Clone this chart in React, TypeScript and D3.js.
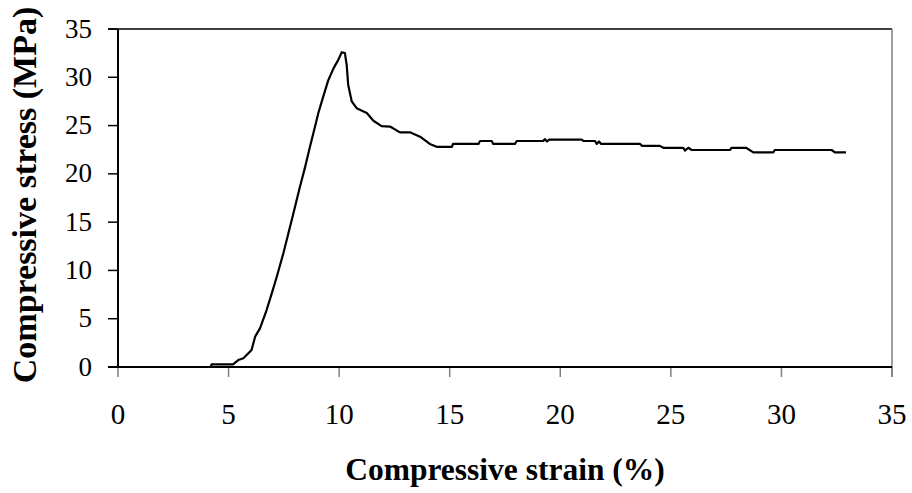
import React from "react";
import * as d3 from "d3";

const strain = [0, 4.2, 4.23, 5.2, 5.44, 5.67, 6.04, 6.2, 6.42, 6.72, 6.95, 7.18, 7.48, 7.7, 7.93, 8.23, 8.46, 8.68, 8.91, 9.06, 9.28, 9.51, 9.74, 9.96, 10.12, 10.26, 10.34, 10.41, 10.57, 10.79, 11.25, 11.55, 11.92, 12.3, 12.75, 13.2, 13.66, 14.1, 14.41, 15.1, 15.15, 16.3, 16.37, 16.9, 16.97, 17.95, 18.03, 19.23, 19.3, 19.4, 19.5, 20.97, 21.05, 21.57, 21.65, 21.75, 21.85, 23.6, 23.7, 24.5, 24.66, 25.56, 25.64, 25.79, 25.94, 27.67, 27.75, 28.4, 28.73, 29.63, 29.7, 32.27, 32.42, 32.92];
const stress = [0, 0, 0.28, 0.28, 0.72, 0.9, 1.76, 3.14, 4.0, 5.9, 7.6, 9.35, 11.8, 13.8, 15.9, 18.7, 20.7, 22.8, 24.9, 26.3, 28.0, 29.7, 30.9, 31.8, 32.6, 32.5, 31.3, 29.2, 27.5, 26.8, 26.3, 25.5, 24.95, 24.9, 24.3, 24.3, 23.85, 23.1, 22.8, 22.8, 23.1, 23.1, 23.4, 23.4, 23.1, 23.1, 23.4, 23.4, 23.6, 23.35, 23.55, 23.55, 23.4, 23.4, 23.1, 23.35, 23.1, 23.1, 22.9, 22.9, 22.7, 22.7, 22.4, 22.7, 22.47, 22.47, 22.7, 22.7, 22.23, 22.23, 22.47, 22.47, 22.23, 22.23];

const xTicks = [0, 5, 10, 15, 20, 25, 30, 35];
const yTicks = [0, 5, 10, 15, 20, 25, 30, 35];
const xTitle = "Compressive strain (%)";
const yTitle = "Compressive stress (MPa)";

const FONT = "'Liberation Serif', 'Times New Roman', serif";

export default function App() {
  const x = d3.scaleLinear().domain([0, 35]).range([118, 892]);
  const y = d3.scaleLinear().domain([0, 35]).range([367, 29]);
  const pts = strain.map((s, i) => [s, stress[i]] as [number, number]);
  const line = d3.line<[number, number]>().x((d) => x(d[0])).y((d) => y(d[1]));

  return (
    <svg width={912} height={493} style={{ position: "absolute", left: 0, top: 0, background: "#fff" }}>
      <rect x={0} y={0} width={912} height={493} fill="#fff" />
      <line x1={108} x2={892} y1={y(35)} y2={y(35)} stroke="#000" strokeWidth={1.5} />
      <line x1={892} x2={892} y1={y(35)} y2={377} stroke="#808080" strokeWidth={1.5} />
      {yTicks.map((t) => (
        <g key={"y" + t}>
          <line x1={108} x2={118} y1={y(t)} y2={y(t)} stroke="#000" strokeWidth={1.5} />
          <text x={92} y={y(t) + 8.5} textAnchor="end" fontFamily={FONT} fontSize={27} fill="#000">{t}</text>
        </g>
      ))}
      {xTicks.map((t) => (
        <g key={"x" + t}>
          <line x1={x(t)} x2={x(t)} y1={367} y2={377} stroke="#808080" strokeWidth={1.5} />
          <text x={x(t)} y={424} textAnchor="middle" fontFamily={FONT} fontSize={29} fill="#000">{t}</text>
        </g>
      ))}
      <line x1={108} x2={892} y1={367} y2={367} stroke="#000" strokeWidth={2} />
      <line x1={118} x2={118} y1={29} y2={367} stroke="#000" strokeWidth={2} />
      <path d={line(pts) || ""} fill="none" stroke="#000" strokeWidth={2.2} strokeLinejoin="round" />
      <text x={505} y={480} textAnchor="middle" fontFamily={FONT} fontWeight="bold" fontSize={31.5} fill="#000">{xTitle}</text>
      <text transform="translate(36,195) rotate(-90)" textAnchor="middle" fontFamily={FONT} fontWeight="bold" fontSize={34} fill="#000">{yTitle}</text>
    </svg>
  );
}
